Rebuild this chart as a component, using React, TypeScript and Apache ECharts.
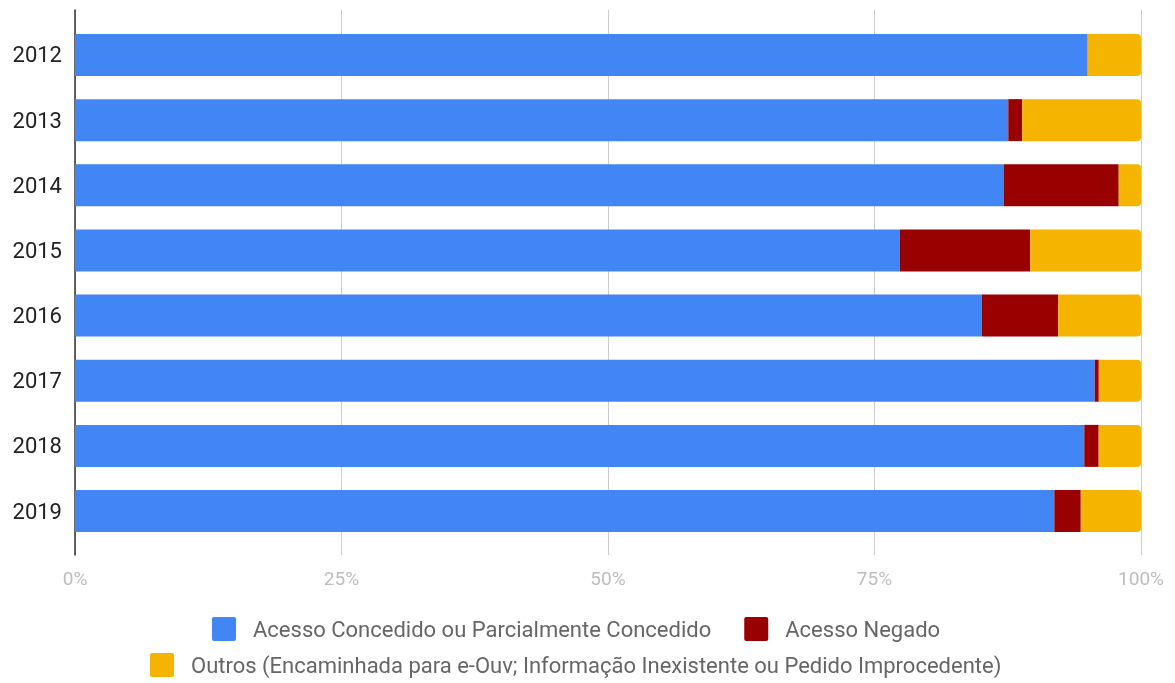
import React, { useEffect, useRef } from "react";
import * as echarts from "echarts";

const years = ["2012", "2013", "2014", "2015", "2016", "2017", "2018", "2019"];
const concedido = [95.0, 87.55, 87.15, 77.39, 85.08, 95.66, 94.68, 91.87];
const negado = [0.0, 1.31, 10.76, 12.22, 7.16, 0.38, 1.35, 2.48];
const outros = [5.0, 11.14, 2.09, 10.39, 7.76, 3.96, 3.97, 5.65];
const xTicks = [0, 25, 50, 75, 100];

const nameA = "Acesso Concedido ou Parcialmente Concedido";
const nameB = "Acesso Negado";
const nameC = "Outros (Encaminhada para e-Ouv; Informação Inexistente ou Pedido Improcedente)";

const squareIcon =
  "path://M2,0 H22 A2,2 0 0 1 24,2 V22 A2,2 0 0 1 22,24 H2 A2,2 0 0 1 0,22 V2 A2,2 0 0 1 2,0 Z";

export default function App() {
  const ref = useRef<HTMLDivElement>(null);
  useEffect(() => {
    if (!ref.current) return;
    const chart = echarts.init(ref.current, undefined, { renderer: "svg" });
    const legendText = {
      fontFamily: "Roboto",
      fontSize: 22,
      color: "#666666",
      padding: [0, 0, 0, 12],
    };
    chart.setOption({
      animation: false,
      textStyle: { fontFamily: "Roboto" },
      grid: [
        { left: 75, right: 34, top: 10, bottom: 128 },
        { left: 75, right: 34, top: 22.4, bottom: 139.4 },
      ],
      xAxis: [
        {
          gridIndex: 0,
          type: "value",
          min: xTicks[0],
          max: xTicks[xTicks.length - 1],
          interval: 25,
          axisLine: { show: false },
          axisTick: { show: false },
          splitLine: { show: true, lineStyle: { color: "#cccccc", width: 1 } },
          axisLabel: {
            formatter: "{value}%",
            color: "#bdbdbd",
            fontSize: 19,
            margin: 14,
            fontFamily: "Roboto",
          },
        },
        {
          gridIndex: 1,
          type: "value",
          min: 0,
          max: 100,
          show: false,
        },
      ],
      yAxis: [
        {
          gridIndex: 0,
          type: "value",
          min: 0,
          max: 1,
          axisLine: { show: true, lineStyle: { color: "#333333", width: 1.5 } },
          axisTick: { show: false },
          axisLabel: { show: false },
          splitLine: { show: false },
        },
        {
          gridIndex: 1,
          type: "category",
          inverse: true,
          data: years,
          axisLine: { show: false },
          axisTick: { show: false },
          axisLabel: {
            color: "#222222",
            fontSize: 22,
            margin: 13,
            fontFamily: "Roboto",
          },
        },
      ],
      legend: [
        {
          data: [nameA, nameB],
          top: 612,
          left: 207,
          icon: squareIcon,
          itemWidth: 24,
          itemHeight: 24,
          itemGap: 33,
          textStyle: legendText,
        },
        {
          data: [nameC],
          top: 648,
          left: 145,
          icon: squareIcon,
          itemWidth: 24,
          itemHeight: 24,
          textStyle: legendText,
        },
      ],
      series: [
        {
          name: nameA,
          type: "bar",
          stack: "total",
          xAxisIndex: 1,
          yAxisIndex: 1,
          barWidth: 42,
          data: concedido,
          itemStyle: { color: "#4285f4" },
        },
        {
          name: nameB,
          type: "bar",
          stack: "total",
          xAxisIndex: 1,
          yAxisIndex: 1,
          barWidth: 42,
          data: negado,
          itemStyle: { color: "#990000" },
        },
        {
          name: nameC,
          type: "bar",
          stack: "total",
          xAxisIndex: 1,
          yAxisIndex: 1,
          barWidth: 42,
          data: outros,
          itemStyle: { color: "#f4b400", borderRadius: [0, 4, 4, 0] },
        },
      ],
    });
    return () => chart.dispose();
  }, []);
  return (
    <div
      ref={ref}
      style={{ position: "fixed", left: 0, top: 0, width: 1175, height: 683 }}
    />
  );
}
